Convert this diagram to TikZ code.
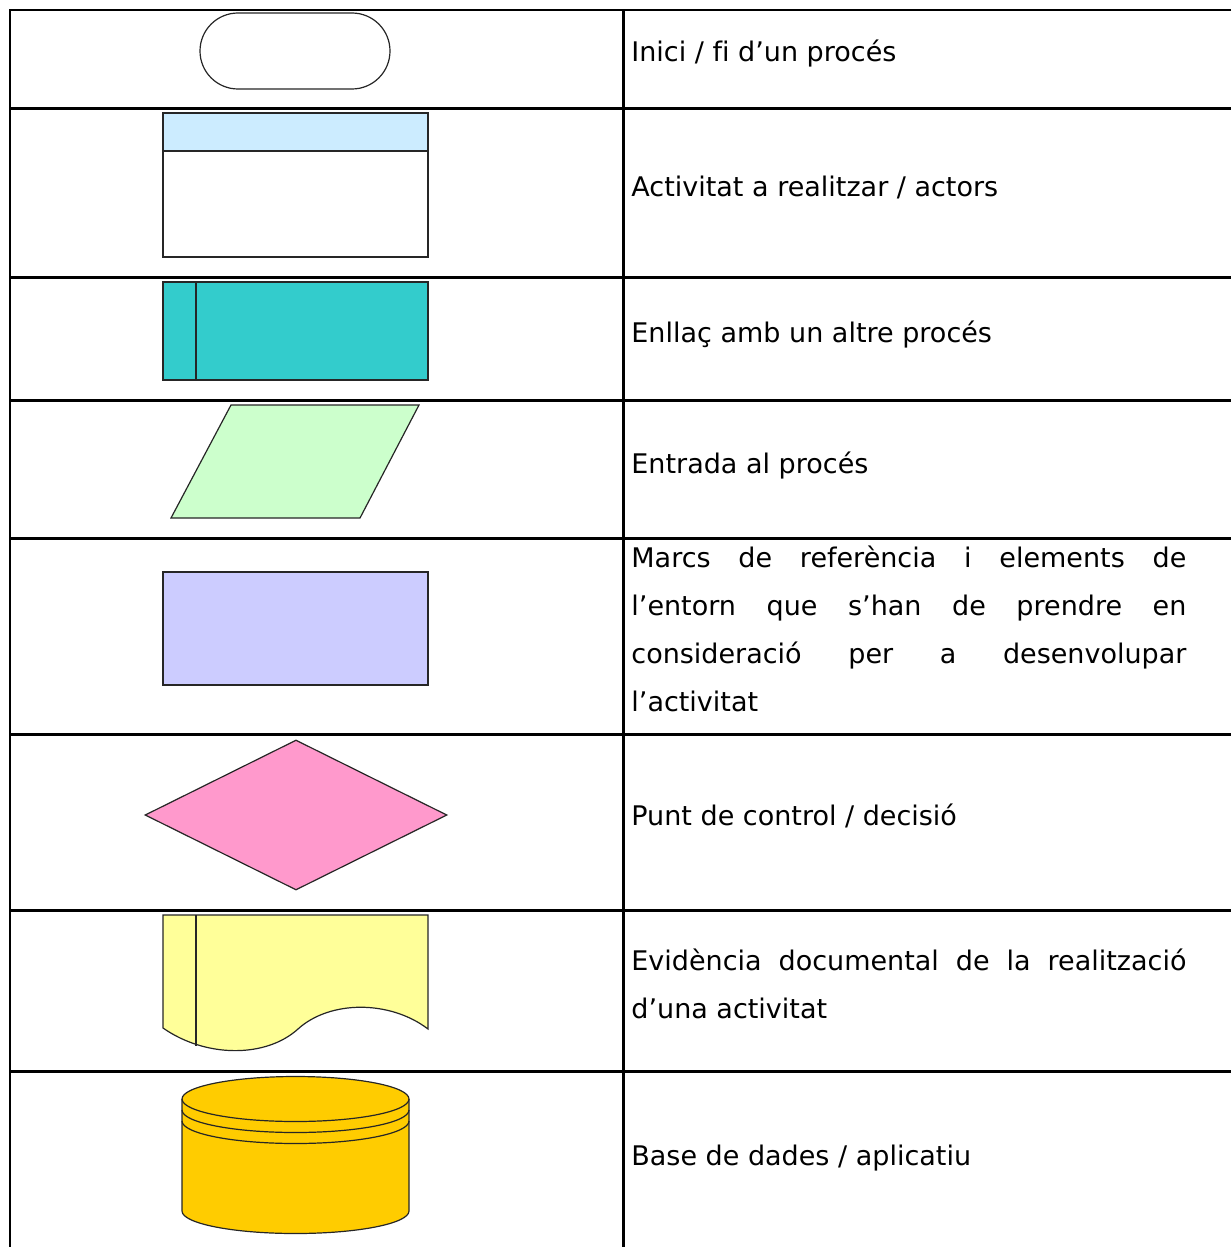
\documentclass[tikz,border=0pt]{standalone}
\usepackage{fontspec}
\setmainfont[Ligatures=NoCommon]{DejaVu Sans}
\usetikzlibrary{shapes.misc, shapes.geometric}
\definecolor{headblue}{HTML}{CCECFF}
\definecolor{linkteal}{HTML}{33CCCC}
\definecolor{inputgreen}{HTML}{CCFFCC}
\definecolor{framelilac}{HTML}{CCCCFF}
\definecolor{decipink}{HTML}{FF99CC}
\definecolor{docyellow}{HTML}{FFFF99}
\definecolor{dbgold}{HTML}{FFCC00}
\newcommand{\descfont}{\fontsize{13.5}{24}\selectfont}
\tolerance=10000
\tikzset{
        gridline/.style={draw=black, line width=1.25pt},
        outline/.style={draw=black!85, line width=0.6pt},
        terminal/.style={outline, rounded rectangle, fill=white, minimum width=95pt, minimum height=38pt, inner sep=0pt},
        activity/.style={outline, rectangle, fill=white, minimum width=132.5pt, minimum height=72pt, inner sep=0pt,
          path picture={\fill[headblue] (path picture bounding box.north west) rectangle ([yshift=-19pt]path picture bounding box.north east);
            \draw[outline] ([yshift=-19pt]path picture bounding box.north west) -- ([yshift=-19pt]path picture bounding box.north east);}},
        linkbox/.style={outline, rectangle, fill=linkteal, minimum width=132.5pt, minimum height=49pt, inner sep=0pt,
          path picture={\draw[outline] ([xshift=16.5pt]path picture bounding box.north west) -- ([xshift=16.5pt]path picture bounding box.south west);}},
        inputbox/.style={outline, fill=inputgreen},
        framebox/.style={outline, rectangle, fill=framelilac, minimum width=132.5pt, minimum height=56.5pt, inner sep=0pt},
        decision/.style={outline, diamond, fill=decipink, minimum width=151pt, minimum height=75pt, inner sep=0pt},
        docshape/.style={outline, fill=docyellow},
        database/.style={outline, fill=dbgold},
        desc/.style={anchor=base west, inner sep=0pt, font=\descfont},
        para/.style={desc, anchor=north west, text width=277.5pt, align=justify}
          }
\begin{document}
\begin{tikzpicture}[x=0.5pt, y=-0.5pt]
\useasboundingbox (0,0) rectangle (1231,1247);
\draw[gridline] (1231,10) -- (10,10) -- (10,1247);
\draw[gridline] (623.5,10) -- (623.5,1247);
\foreach \y in {108.5,277.5,400.5,538.5,734.5,910.5,1071.5}
  \draw[gridline] (10,\y) -- (1231,\y);
\node[terminal] (start) at (295,51) {};
\node[activity] (act) at (295.5,185) {};
\node[linkbox] (link) at (295.5,331) {};
\draw[inputbox] (231,405) -- (419,405) -- (360,518) -- (171,518) -- cycle;
\node[framebox] (frame) at (295.5,628.5) {};
\node[decision] (dec) at (296,815) {};
\draw[docshape] (163,915) -- (428,915) -- (428,1029) .. controls (390,1000) and (330,1000) .. (298,1029)
  .. controls (266,1058) and (206,1058) .. (163,1028) -- cycle;
\draw[outline] (196,915) -- (196,1046);
\draw[database] (182,1099) -- (182,1211) arc[start angle=180, end angle=360, x radius=56.75pt, y radius=11.25pt]
  -- (409,1099) arc[start angle=0, end angle=180, x radius=56.75pt, y radius=11.25pt] -- cycle;
\foreach \y in {1099,1110,1121}
  \draw[outline] (182,\y) arc[start angle=180, end angle=360, x radius=56.75pt, y radius=11.25pt];
\node[desc] (t1) at (631,61.5) {Inici / fi d’un procés};
\node[desc] (t2) at (631,196.5) {Activitat a realitzar / actors};
\node[desc] (t3) at (631,342.5) {Enllaç amb un altre procés};
\node[desc] (t4) at (631,473.5) {Entrada al procés};
\node[para] (t5) at (631,533.9) {\strut Marcs de referència i elements de\linebreak l’entorn que s’han de prendre en\linebreak consideració per a desenvolupar\linebreak l’activitat};
\node[desc] (t6) at (631,825.5) {Punt de control / decisió};
\node[para] (t7) at (631,936.9) {\strut Evidència documental de la realització\linebreak d’una activitat};
\node[desc] (t8) at (631,1165.5) {Base de dades / aplicatiu};
\end{tikzpicture}
\end{document}
